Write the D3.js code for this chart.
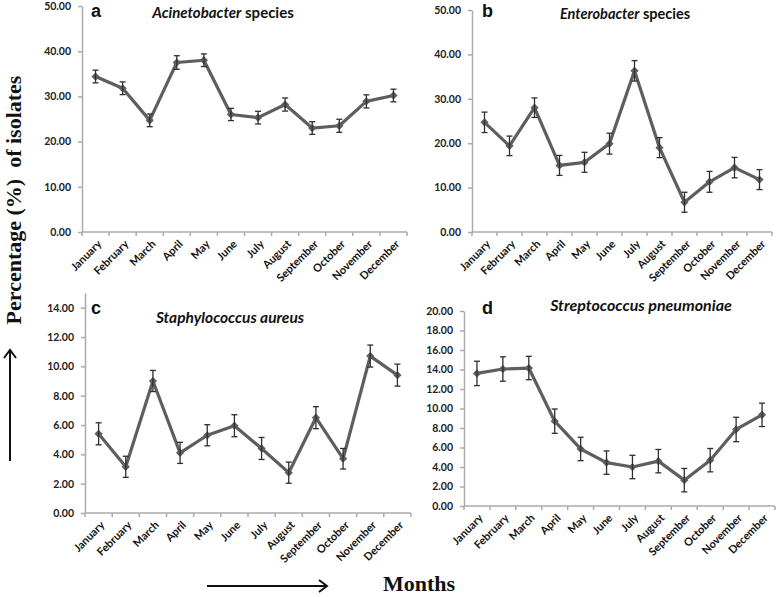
<!DOCTYPE html>
<html>
<head>
<meta charset="utf-8">
<script src="https://cdn.jsdelivr.net/npm/d3@7"></script>
<style>
  body { margin: 0; background: #fff; }
  svg { display: block; }
</style>
</head>
<body>
<div class="container"></div>
<script>
const months = ["January", "February", "March", "April", "May", "June", "July",
                "August", "September", "October", "November", "December"]

// a - Acinetobacter species
const acinetoValues = [34.4, 31.8, 24.7, 37.5, 38.0, 26.0, 25.3, 28.2, 23.0, 23.5, 28.9, 30.2]
const acinetoErrors = [1.4, 1.4, 1.4, 1.5, 1.4, 1.35, 1.4, 1.45, 1.4, 1.45, 1.45, 1.4]
const acinetoTicks = [0, 10, 20, 30, 40, 50]

// b - Enterobacter species
const enteroValues = [24.7, 19.4, 28.0, 15.0, 15.7, 19.9, 36.3, 19.0, 6.7, 11.3, 14.5, 11.8]
const enteroErrors = [2.3, 2.2, 2.2, 2.25, 2.25, 2.35, 2.3, 2.25, 2.25, 2.35, 2.3, 2.25]
const enteroTicks = [0, 10, 20, 30, 40, 50]

// c - Staphylococcus aureus
const staphValues = [5.4, 3.15, 9.0, 4.1, 5.3, 5.95, 4.4, 2.75, 6.5, 3.7, 10.7, 9.4]
const staphErrors = [0.75, 0.72, 0.72, 0.72, 0.72, 0.75, 0.75, 0.72, 0.75, 0.7, 0.75, 0.75]
const staphTicks = [0, 2, 4, 6, 8, 10, 12, 14]

// d - Streptococcus pneumoniae
const streptoValues = [13.6, 14.05, 14.15, 8.7, 5.85, 4.45, 4.0, 4.6, 2.65, 4.7, 7.85, 9.35]
const streptoErrors = [1.25, 1.25, 1.2, 1.25, 1.2, 1.2, 1.2, 1.2, 1.2, 1.2, 1.25, 1.2]
const streptoTicks = [0, 2, 4, 6, 8, 10, 12, 14, 16, 18, 20]

const w = 778
const h = 597
const lineColor = "#5e5e5e"
const axisColor = "#ababab"

const svg = d3.select(".container")
              .append("svg")
              .attr("width", w)
              .attr("height", h)

function drawPanel(p) {
    const g = svg.append("g")

    const xScale = d3.scaleBand()
                     .domain(months)
                     .range([p.x0, p.x1])
    const yScale = d3.scaleLinear()
                     .domain([0, p.yMax])
                     .range([p.y0, p.yTop])
    const cx = (m) => xScale(m) + xScale.bandwidth() / 2

    // y axis
    const yAxis = d3.axisLeft(yScale)
                    .tickValues(p.ticks)
                    .tickSizeInner(4)
                    .tickSizeOuter(0)
                    .tickPadding(p.pad)
                    .tickFormat(d3.format(".2f"))
    const ya = g.append("g")
                .attr("transform", `translate(${p.x0}, 0)`)
                .call(yAxis)
    ya.selectAll("path, line").attr("stroke", axisColor).attr("stroke-width", 1.5)
    ya.selectAll("text")
      .attr("font-family", "Lato, sans-serif")
      .attr("font-weight", "bold")
      .attr("font-size", "10.5px")
      .attr("fill", "#222")

    // x axis: line, boundary ticks, rotated labels
    g.append("line")
     .attr("x1", p.x0).attr("x2", p.x1)
     .attr("y1", p.y0).attr("y2", p.y0)
     .attr("stroke", axisColor).attr("stroke-width", 1.5)
    g.selectAll(".xt")
     .data(months.concat(["end"]))
     .enter()
     .append("line")
     .attr("x1", (d, i) => i < months.length ? xScale(d) : p.x1)
     .attr("x2", (d, i) => i < months.length ? xScale(d) : p.x1)
     .attr("y1", p.y0).attr("y2", p.y0 + 4)
     .attr("stroke", axisColor).attr("stroke-width", 1.5)
    g.selectAll(".xl")
     .data(months)
     .enter()
     .append("text")
     .attr("transform", (d) => `translate(${cx(d) + 4}, ${p.y0 + 10}) rotate(-45)`)
     .attr("text-anchor", "end")
     .attr("dy", "0.35em")
     .attr("font-family", "Lato, sans-serif")
     .attr("font-weight", "bold")
     .attr("font-size", "11px")
     .attr("fill", "#111")
     .text((d) => d)

    const data = months.map((m, i) => ({ m: m, v: p.values[i], e: p.errors[i] }))

    // line
    const line = d3.line()
                   .x((d) => cx(d.m))
                   .y((d) => yScale(d.v))
    g.append("path")
     .datum(data)
     .attr("d", line)
     .attr("fill", "none")
     .attr("stroke", lineColor)
     .attr("stroke-width", 3.2)
     .attr("stroke-linejoin", "round")

    // markers
    g.selectAll(".mk")
     .data(data)
     .enter()
     .append("path")
     .attr("d", d3.symbol(d3.symbolSquare, 34))
     .attr("transform", (d) => `translate(${cx(d.m)}, ${yScale(d.v)}) rotate(45)`)
     .attr("fill", lineColor)

    // error bars
    const eb = g.selectAll(".eb")
                .data(data)
                .enter()
                .append("g")
                .attr("stroke", "#2e2e2e")
                .attr("stroke-width", 1.3)
    eb.append("line")
      .attr("x1", (d) => cx(d.m)).attr("x2", (d) => cx(d.m))
      .attr("y1", (d) => yScale(d.v - d.e)).attr("y2", (d) => yScale(d.v + d.e))
    eb.append("line")
      .attr("x1", (d) => cx(d.m) - 3).attr("x2", (d) => cx(d.m) + 3)
      .attr("y1", (d) => yScale(d.v + d.e)).attr("y2", (d) => yScale(d.v + d.e))
    eb.append("line")
      .attr("x1", (d) => cx(d.m) - 3).attr("x2", (d) => cx(d.m) + 3)
      .attr("y1", (d) => yScale(d.v - d.e)).attr("y2", (d) => yScale(d.v - d.e))

    // panel letter
    g.append("text")
     .attr("x", p.letterX).attr("y", p.letterY)
     .attr("font-family", "'Liberation Sans', Arial, sans-serif")
     .attr("font-weight", "bold")
     .attr("font-size", "18px")
     .attr("fill", "#111")
     .text(p.letter)

    // title
    const t = g.append("text")
               .attr("x", p.titleX).attr("y", p.titleY)
               .attr("text-anchor", "middle")
               .attr("font-family", "Lato, sans-serif")
               .attr("font-weight", "bold")
               .attr("font-size", p.titleSize)
               .attr("fill", "#111")
    t.append("tspan").attr("font-style", "italic").text(p.italic)
    if (p.plain) t.append("tspan").text(" " + p.plain)
}

drawPanel({ values: acinetoValues, errors: acinetoErrors, ticks: acinetoTicks, yMax: 50,
            x0: 82, x1: 407, y0: 232, yTop: 6, pad: 7,
            letter: "a", letterX: 91, letterY: 17,
            italic: "Acinetobacter", plain: "species", titleX: 223, titleY: 18, titleSize: "15px" })

drawPanel({ values: enteroValues, errors: enteroErrors, ticks: enteroTicks, yMax: 50,
            x0: 472, x1: 772, y0: 232, yTop: 10, pad: 7,
            letter: "b", letterX: 482, letterY: 17,
            italic: "Enterobacter", plain: "species", titleX: 625, titleY: 19, titleSize: "14.5px" })

drawPanel({ values: staphValues, errors: staphErrors, ticks: staphTicks, yMax: 15,
            x0: 85, x1: 411, y0: 513, yTop: 293, pad: 7,
            letter: "c", letterX: 91, letterY: 314,
            italic: "Staphylococcus aureus", plain: null, titleX: 230, titleY: 323, titleSize: "15.5px" })

drawPanel({ values: streptoValues, errors: streptoErrors, ticks: streptoTicks, yMax: 20,
            x0: 464, x1: 775, y0: 506, yTop: 311, pad: 7,
            letter: "d", letterX: 482, letterY: 314,
            italic: "Streptococcus pneumoniae", plain: null, titleX: 641, titleY: 311, titleSize: "16px" })

// shared axis titles with arrows
const serif = "'Liberation Serif', 'Times New Roman', serif"

svg.append("text")
   .attr("transform", "translate(21, 200) rotate(-90)")
   .attr("text-anchor", "middle")
   .attr("font-family", serif)
   .attr("font-weight", "bold")
   .attr("font-size", "22px")
   .attr("fill", "#111")
   .attr("xml:space", "preserve")
   .text("Percentage (%)  of isolates")

svg.append("text")
   .attr("x", 419).attr("y", 591)
   .attr("text-anchor", "middle")
   .attr("font-family", serif)
   .attr("font-weight", "bold")
   .attr("font-size", "22px")
   .attr("fill", "#111")
   .text("Months")

const arrow = svg.append("g")
                 .attr("stroke", "#111")
                 .attr("stroke-width", 2)
                 .attr("fill", "none")
// vertical arrow
arrow.append("line").attr("x1", 10).attr("x2", 10).attr("y1", 461).attr("y2", 350)
arrow.append("path").attr("d", "M4,358 L10,350 L16,358")
// horizontal arrow
arrow.append("line").attr("x1", 207).attr("x2", 327).attr("y1", 586).attr("y2", 586)
arrow.append("path").attr("d", "M319,580 L327,586 L319,592")
</script>
</body>
</html>
